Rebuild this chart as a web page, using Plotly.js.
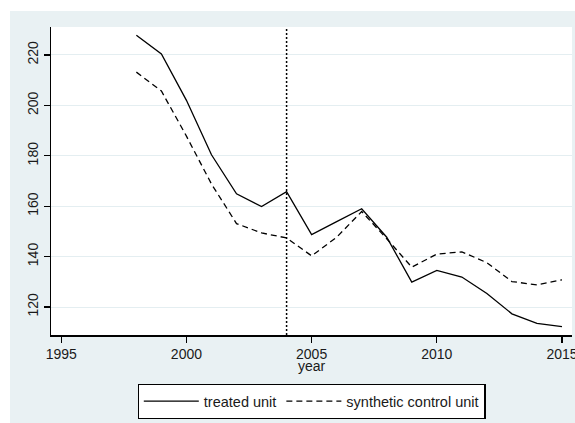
<!DOCTYPE html>
<html>
<head>
<meta charset="utf-8">
<script src="https://cdn.plot.ly/plotly-3.0.1.min.js"></script>
<style>
  html, body { margin: 0; padding: 0; background: #ffffff; width: 575px; height: 423px; overflow: hidden; }
  #chart { position: absolute; left: 10px; top: 11px; width: 565px; height: 412px; }
</style>
</head>
<body>
<div id="chart"></div>
<script>
const years = [1998, 1999, 2000, 2001, 2002, 2003, 2004, 2005, 2006, 2007, 2008, 2009, 2010, 2011, 2012, 2013, 2014, 2015];
const treated = [227.8, 220.4, 202.0, 180.4, 164.9, 159.9, 165.8, 148.7, 153.9, 159.0, 147.7, 129.9, 134.5, 131.9, 125.4, 117.3, 113.5, 112.2];
const synthetic = [213.2, 205.7, 187.8, 168.8, 153.1, 149.4, 147.4, 140.3, 147.7, 157.9, 147.1, 135.8, 141.0, 141.9, 137.6, 130.1, 128.8, 130.8];
const seriesNames = ["treated unit", "synthetic control unit"];
const treatYear = 2004;
const xTicks = [1995, 2000, 2005, 2010, 2015];
const yTicks = [120, 140, 160, 180, 200, 220];
const xLabel = "year";

const font = "Arial, 'Liberation Sans', sans-serif";
const txt = "#1a1a1a";

const traces = [
  { x: years, y: treated, name: seriesNames[0], type: "scatter", mode: "lines",
    line: { color: "#000000", width: 1.3 } },
  { x: years, y: synthetic, name: seriesNames[1], type: "scatter", mode: "lines",
    line: { color: "#000000", width: 1.3, dash: "6px,4px" } }
];

const layout = {
  width: 565, height: 412,
  margin: { l: 41, r: 3, t: 16, b: 88 },
  paper_bgcolor: "#e9f1f3",
  plot_bgcolor: "#ffffff",
  font: { family: font, size: 14, color: txt },
  showlegend: true,
  xaxis: {
    range: [1994.59, 2015.4],
    tickvals: xTicks, ticktext: xTicks.map(String),
    ticklabeloverflow: "allow",
    ticks: "outside", ticklen: 6, tickwidth: 1.3, tickcolor: "#000",
    showline: true, linecolor: "#000", linewidth: 1.5,
    showgrid: false, zeroline: false,
    tickfont: { family: font, size: 14, color: txt }
  },
  yaxis: {
    range: [108.9, 231.1],
    tickvals: yTicks, ticktext: yTicks.map(String),
    tickangle: -90,
    ticks: "outside", ticklen: 6, tickwidth: 1.3, tickcolor: "#000",
    showline: true, linecolor: "#000", linewidth: 1.5,
    showgrid: true, gridcolor: "#e4eef1", gridwidth: 1,
    zeroline: false,
    tickfont: { family: font, size: 14, color: txt }
  },
  shapes: [
    { type: "line", xref: "x", yref: "paper", x0: treatYear, x1: treatYear, y0: 0, y1: 1,
      line: { color: "#000", width: 1.5, dash: "2px,2px" } }
  ],
  annotations: [
    { text: xLabel, xref: "paper", yref: "paper", x: 0.5, y: -0.1, xanchor: "center", yanchor: "middle",
      showarrow: false, font: { family: font, size: 14, color: txt } }
  ],
  legend: {
    orientation: "h", x: 0.5, xanchor: "center", y: -0.159, yanchor: "top",
    bgcolor: "#ffffff", bordercolor: "#000000", borderwidth: 1.3,
    font: { family: font, size: 14.5, color: txt },
    itemwidth: 55, tracegroupgap: 0
  }
};

Plotly.newPlot("chart", traces, layout, { displayModeBar: false, staticPlot: true });
</script>
</body>
</html>
